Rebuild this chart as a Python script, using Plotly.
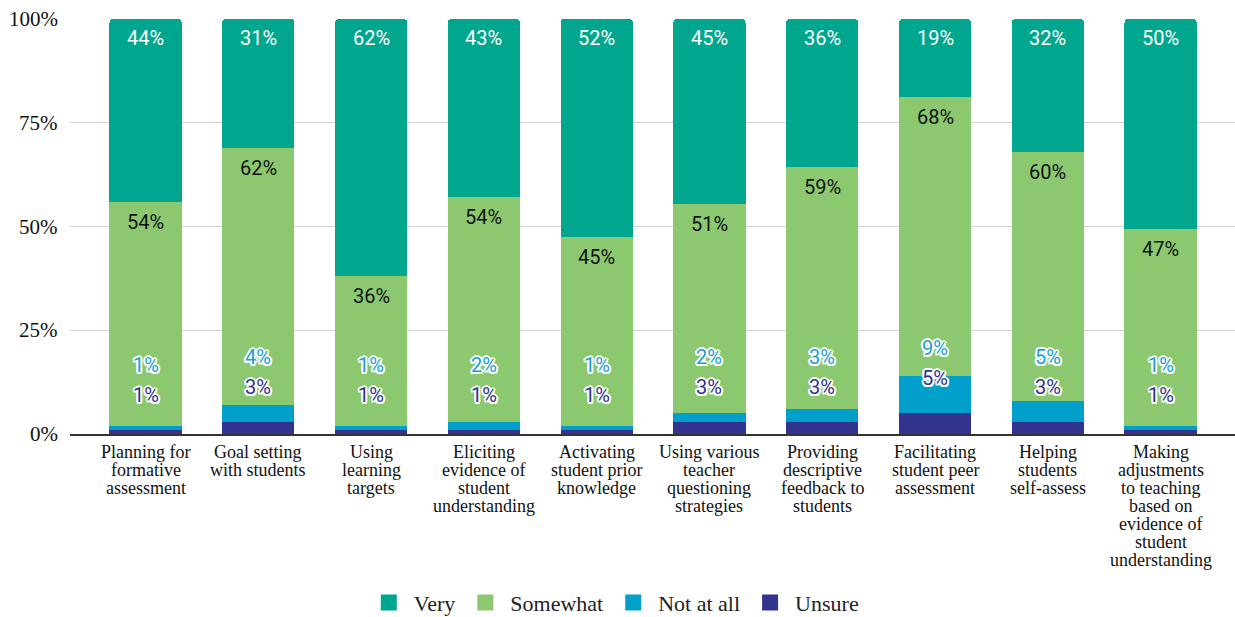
import plotly.graph_objects as go

# Survey: how confident teachers feel with each formative assessment practice
categories = [
    "Planning for<br>formative<br>assessment",
    "Goal setting<br>with students",
    "Using<br>learning<br>targets",
    "Eliciting<br>evidence of<br>student<br>understanding",
    "Activating<br>student prior<br>knowledge",
    "Using various<br>teacher<br>questioning<br>strategies",
    "Providing<br>descriptive<br>feedback to<br>students",
    "Facilitating<br>student peer<br>assessment",
    "Helping<br>students<br>self-assess",
    "Making<br>adjustments<br>to teaching<br>based on<br>evidence of<br>student<br>understanding",
]
very = [44, 31, 62, 43, 52, 45, 36, 19, 32, 50]
somewhat = [54, 62, 36, 54, 45, 51, 59, 68, 60, 47]
not_at_all = [1, 4, 1, 2, 1, 2, 3, 9, 5, 1]
unsure = [1, 3, 1, 1, 1, 3, 3, 5, 3, 1]
y_ticks = [0, 25, 50, 75, 100]
y_tick_labels = ["0%", "25%", "50%", "75%", "100%"]

C_VERY = "#00a78e"
C_SOME = "#8cc870"
C_NOT = "#00a0cb"
C_UNSURE = "#32338e"
LABEL_FONT = "Roboto"
SERIF = "Liberation Serif, Times New Roman, serif"

x = list(range(len(categories)))
totals = [a + b + c + d for a, b, c, d in zip(very, somewhat, not_at_all, unsure)]

fig = go.Figure()
# stacked bottom-up: Unsure, Not at all, Somewhat, Very
for name, vals, col in [("Unsure", unsure, C_UNSURE), ("Not at all", not_at_all, C_NOT),
                        ("Somewhat", somewhat, C_SOME), ("Very", very, C_VERY)]:
    fig.add_trace(go.Bar(x=x, y=vals, name=name, marker=dict(color=col, line=dict(width=0)),
                         width=0.64, showlegend=False, hoverinfo="skip"))

# legend entries with larger square swatches
for name, col in [("Very", C_VERY), ("Somewhat", C_SOME), ("Not at all", C_NOT), ("Unsure", C_UNSURE)]:
    fig.add_trace(go.Scatter(x=[None], y=[None], mode="markers", name=name,
                             marker=dict(symbol="square", size=18, color=col)))

halo = ("white 2px 0px 0px, white -2px 0px 0px, white 0px 2px 0px, white 0px -2px 0px, "
        "white 1.5px 1.5px 0px, white -1.5px 1.5px 0px, white 1.5px -1.5px 0px, white -1.5px -1.5px 0px")

annotations = []
for i in x:
    t = totals[i]
    u_top = unsure[i] / t * 100
    n_top = (unsure[i] + not_at_all[i]) / t * 100
    s_top = n_top + somewhat[i] / t * 100
    annotations.append(dict(x=i, y=100, yref="y", text=f"{very[i]}%", showarrow=False,
                            yshift=-19, font=dict(family=LABEL_FONT, size=20, color="white")))
    annotations.append(dict(x=i, y=s_top, yref="y", text=f"{somewhat[i]}%", showarrow=False,
                            yshift=-20, font=dict(family=LABEL_FONT, size=20, color="#111111")))
    annotations.append(dict(x=i, y=u_top, yref="y", text=f"{not_at_all[i]}%", showarrow=False,
                            yshift=65, font=dict(family=LABEL_FONT, size=20, color="#1a9fd6", shadow=halo)))
    annotations.append(dict(x=i, y=u_top, yref="y", text=f"{unsure[i]}%", showarrow=False,
                            yshift=35, font=dict(family=LABEL_FONT, size=20, color=C_UNSURE, shadow=halo)))
    # category labels, one line at a time with tight line spacing
    for k, line in enumerate(categories[i].split("<br>")):
        annotations.append(dict(x=i, y=0, yref="paper", text=line, showarrow=False,
                                yanchor="middle", yshift=-18 - 18 * k,
                                font=dict(family=SERIF, size=18, color="#111111")))

# y tick labels in serif, right-aligned just left of the gridlines
for v, lab in zip(y_ticks, y_tick_labels):
    annotations.append(dict(xref="paper", x=0, y=v, yref="y", text=lab, showarrow=False,
                            xanchor="right", yanchor="middle", xshift=-10,
                            font=dict(family=SERIF, size=21, color="#111111")))

fig.update_layout(
    barmode="stack",
    barnorm="percent",
    barcornerradius=4,
    width=1235, height=617,
    margin=dict(l=70, r=0, t=19, b=183),
    font=dict(family=SERIF, size=21, color="#111111"),
    paper_bgcolor="white", plot_bgcolor="white",
    annotations=annotations,
    legend=dict(orientation="h", traceorder="normal", xref="container", yref="container",
                x=0.497, y=0.023, xanchor="center", yanchor="middle", itemwidth=40,
                font=dict(family=SERIF, size=22, color="#222222")),
    xaxis=dict(range=[-0.67, 9.66], showticklabels=False, showgrid=False, zeroline=False,
               showline=True, linecolor="#333333", linewidth=1.5, fixedrange=True),
    yaxis=dict(range=[0, 100], tickmode="array", tickvals=y_ticks, showticklabels=False,
               showgrid=True, gridcolor="#d2d2d2", gridwidth=1.3, zeroline=False),
)

fig.write_html("out.html")
